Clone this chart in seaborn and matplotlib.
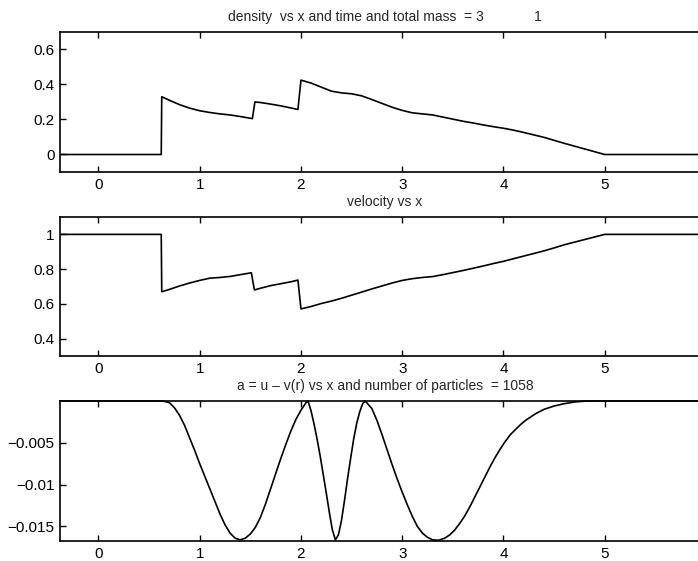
import numpy as np
import pandas as pd
import matplotlib
matplotlib.use("Agg")
import matplotlib.pyplot as plt
import seaborn as sns

# density vs x
dens_x = [-0.38, 0.62, 0.625, 0.70, 0.80, 0.90, 1.00, 1.10, 1.20, 1.30, 1.40, 1.52,
          1.545, 1.60, 1.70, 1.80, 1.90, 1.97, 2.00, 2.10, 2.20, 2.30, 2.40, 2.50,
          2.60, 2.70, 2.80, 2.90, 3.00, 3.10, 3.20, 3.30, 3.40, 3.50, 3.60, 3.70,
          3.80, 3.90, 4.00, 4.10, 4.20, 4.30, 4.40, 4.50, 4.60, 4.70, 4.80, 4.90,
          5.00, 6.04]
dens_y = [0.0, 0.0, 0.33, 0.31, 0.285, 0.265, 0.25, 0.240, 0.232, 0.226, 0.217, 0.205,
          0.30, 0.297, 0.288, 0.278, 0.266, 0.257, 0.425, 0.408, 0.385, 0.362, 0.352, 0.347,
          0.335, 0.314, 0.292, 0.270, 0.252, 0.238, 0.232, 0.226, 0.214, 0.202, 0.190, 0.180,
          0.169, 0.159, 0.150, 0.139, 0.126, 0.112, 0.098, 0.081, 0.064, 0.048, 0.032, 0.016,
          0.0, 0.0]

# velocity vs x
vel_x = [-0.38, 0.62, 0.625, 0.70, 0.80, 0.90, 1.00, 1.10, 1.20, 1.30, 1.40, 1.51,
         1.54, 1.60, 1.70, 1.80, 1.90, 1.97, 2.00, 2.10, 2.20, 2.30, 2.40, 2.50,
         2.60, 2.70, 2.80, 2.90, 3.00, 3.10, 3.20, 3.30, 3.40, 3.50, 3.60, 3.70,
         3.80, 3.90, 4.00, 4.10, 4.20, 4.30, 4.40, 4.50, 4.60, 4.70, 4.80, 4.90,
         5.00, 6.04]
vel_y = [1.0, 1.0, 0.67, 0.683, 0.703, 0.72, 0.735, 0.748, 0.752, 0.758, 0.768, 0.779,
         0.68, 0.69, 0.705, 0.716, 0.727, 0.737, 0.571, 0.585, 0.602, 0.616, 0.632, 0.650,
         0.668, 0.686, 0.703, 0.720, 0.735, 0.745, 0.752, 0.757, 0.768, 0.780, 0.792, 0.805,
         0.818, 0.832, 0.845, 0.860, 0.875, 0.890, 0.905, 0.922, 0.940, 0.955, 0.970, 0.985,
         1.0, 1.0]

# a = u - v(r) vs x
a_x = [-0.38, 0.64, 0.70, 0.75, 0.80, 0.85, 0.90, 0.95, 1.00, 1.05, 1.10, 1.15, 1.20,
       1.25, 1.30, 1.35, 1.40, 1.45, 1.50, 1.55, 1.60, 1.65, 1.70, 1.75, 1.80, 1.85,
       1.90, 1.95, 2.00, 2.05, 2.07, 2.10, 2.13, 2.16, 2.19, 2.22, 2.25, 2.28, 2.31,
       2.34, 2.37, 2.40, 2.43, 2.46, 2.49, 2.52, 2.55, 2.58, 2.61, 2.635, 2.70, 2.75,
       2.80, 2.85, 2.90, 2.95, 3.00, 3.05, 3.10, 3.15, 3.20, 3.25, 3.30, 3.36, 3.42,
       3.47, 3.52, 3.57, 3.62, 3.67, 3.72, 3.77, 3.82, 3.87, 3.92, 3.97, 4.02, 4.07,
       4.12, 4.17, 4.22, 4.27, 4.32, 4.40, 4.50, 4.60, 4.70, 4.80, 4.90, 6.04]
a_y = [0.0, 0.0, -0.0002, -0.0008, -0.0017, -0.0029, -0.0044, -0.0059, -0.0075, -0.0090,
       -0.0105, -0.0120, -0.0135, -0.0148, -0.0158, -0.0164, -0.0166, -0.0164, -0.0159,
       -0.0151, -0.0139, -0.0123, -0.0105, -0.0087, -0.0069, -0.0052, -0.0036, -0.0022,
       -0.0011, -0.0002, 0.0, -0.0012, -0.0028, -0.0046, -0.0066, -0.0088, -0.0110,
       -0.0133, -0.0154, -0.0166, -0.0160, -0.0143, -0.0119, -0.0093, -0.0069, -0.0046,
       -0.0027, -0.0013, -0.0003, 0.0, -0.0009, -0.0023, -0.0040, -0.0058, -0.0076,
       -0.0093, -0.0109, -0.0124, -0.0138, -0.0150, -0.0158, -0.0163, -0.0166, -0.01665,
       -0.0164, -0.0160, -0.0154, -0.0146, -0.0137, -0.0126, -0.0114, -0.0102, -0.0090,
       -0.0078, -0.0067, -0.0057, -0.0048, -0.0040, -0.0034, -0.0028, -0.0023, -0.0019,
       -0.0015, -0.0010, -0.0006, -0.00032, -0.00012, -0.00002, 0.0, 0.0]

x_ticks = [0, 1, 2, 3, 4, 5]
x_labels = ["0", "1", "2", "3", "4", "5"]
dens_ticks = [0, 0.2, 0.4, 0.6]
dens_labels = ["0", "0.2", "0.4", "0.6"]
vel_ticks = [0.4, 0.6, 0.8, 1.0]
vel_labels = ["0.4", "0.6", "0.8", "1"]
a_ticks = [-0.015, -0.01, -0.005]
a_labels = ["\u22120.015", "\u22120.01", "\u22120.005"]

titles = ["density  vs x and time and total mass  = 3             1",
          "velocity vs x",
          "a = u \u2013 v(r) vs x and number of particles  = 1058"]

sns.set_theme(style="ticks")
plt.rcParams["font.family"] = ["Liberation Sans", "DejaVu Sans"]

fig = plt.figure(figsize=(6.98, 5.61), dpi=100)
left, width = 60 / 698, 650 / 698
boxes = [(0.6934, 0.2496), (0.3654, 0.2478), (0.0362, 0.2490)]
axes = [fig.add_axes([left, b, width, h]) for b, h in boxes]

panels = [
    (dens_x, dens_y, (-0.1, 0.7), dens_ticks, dens_labels),
    (vel_x, vel_y, (0.3, 1.1), vel_ticks, vel_labels),
    (a_x, a_y, (-0.0167, 0.0), a_ticks, a_labels),
]

for i, (ax, (xs, ys, ylim, yt, yl)) in enumerate(zip(axes, panels)):
    df = pd.DataFrame({"x": xs, "y": ys})
    sns.lineplot(data=df, x="x", y="y", ax=ax, color="black", linewidth=1.2,
                 estimator=None, sort=False)
    if i == 2:
        for ln in ax.lines:
            ln.set_clip_on(False)
    ax.set_xlim(-0.38, 6.04)
    ax.set_ylim(*ylim)
    ax.set_xticks(x_ticks, x_labels)
    ax.set_yticks(yt, yl)
    ax.set_xlabel("")
    ax.set_ylabel("")
    ax.tick_params(direction="in", length=4.5, width=1.0, top=True, right=True,
                   labelsize=11, colors="black")
    ax.tick_params(axis="x", pad=4.5)
    ax.tick_params(axis="y", pad=4)
    for sp in ax.spines.values():
        sp.set_visible(True)
        sp.set_linewidth(1.2)
        sp.set_color("black")
    ax.set_title(titles[i], fontsize=10, pad=8)

fig.savefig("out.png", dpi=100, facecolor="white")
